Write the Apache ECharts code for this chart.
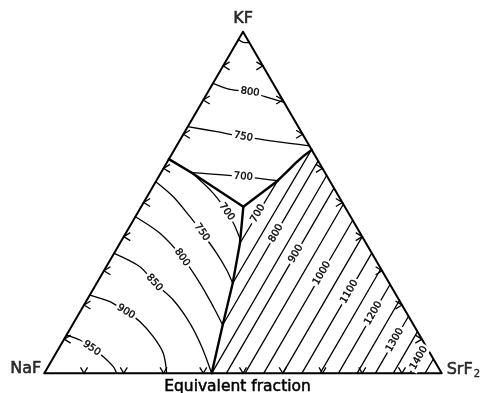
<!DOCTYPE html>
<html>
<head>
<meta charset="utf-8">
<title>NaF–KF–SrF2 liquidus</title>
<script src="https://cdn.jsdelivr.net/npm/echarts@6.0.0/dist/echarts.min.js"></script>
<style>
html, body { margin: 0; padding: 0; background: #fff; }
#chart { width: 484px; height: 393px; }
</style>
</head>
<body>
<div id="chart"></div>
<script>
// Every composition is [SrF2, KF] in equivalent fraction; NaF is the remainder.

// Tick positions along each side of the triangle
const edgeTicks = [0.1, 0.2, 0.3, 0.4, 0.5, 0.6, 0.7, 0.8, 0.9];

// Corners
const cornerNames = ['NaF', 'SrF2', 'KF'];
const cornerComps = [[0, 0], [1, 0], [0, 1]];

// Boundaries between primary fields (heavy lines)
const boundaryNaFKF = [[0, 0.627], [0.0773, 0.5872]];
const boundaryKFSrF2 = [[0.3054, 0.5638], [0.311, 0.5785], [0.3175, 0.5955], [0.3248, 0.6160], [0.3335, 0.6345], [0.346, 0.654]];
const boundaryInnerLeft = [[0.0773, 0.5872], [0.257, 0.4877]];
const boundaryInnerRight = [[0.3054, 0.5638], [0.257, 0.4877]];
const boundaryNaFSrF2 = [[0.257, 0.4877], [0.302, 0.3806], [0.3423, 0.2635], [0.3782, 0.1414], [0.4212, 0]];

// Isotherms in the KF field
const kf850 = [[0, 0.977], [0.016, 0.969], [0.032, 0.968]];
const kf800 = [[0, 0.849], [0.0516, 0.8314], [0.106, 0.8235], [0.1506, 0.8097], [0.207, 0.793]];
const kf750 = [[0, 0.722], [0.0802, 0.7073], [0.1545, 0.6926], [0.2458, 0.678], [0.334, 0.666]];
const kf700 = [[0.0773, 0.5872], [0.213, 0.5755], [0.3054, 0.5638]];

// Isotherms in the NaF field
const naf700 = [[0.0773, 0.5872], [0.1619, 0.5269], [0.2381, 0.4584], [0.2907, 0.3999], [0.302, 0.3806]];
const naf750 = [[0, 0.5609], [0.0661, 0.517], [0.1374, 0.4584], [0.1821, 0.4195], [0.2582, 0.3513], [0.3078, 0.3024], [0.3423, 0.2635]];
const naf800 = [[0, 0.4584], [0.0862, 0.4098], [0.1751, 0.3413], [0.2601, 0.2635], [0.3278, 0.195], [0.3782, 0.1414]];
const naf850 = [[0, 0.3513], [0.0848, 0.3121], [0.1442, 0.2652], [0.2173, 0.2146], [0.2934, 0.1464], [0.3571, 0.0779], [0.4212, 0]];
const naf900 = [[0, 0.2292], [0.0605, 0.2096], [0.1154, 0.1803], [0.1653, 0.1511], [0.2207, 0.1071], [0.2701, 0.0585], [0.308, 0]];
const naf950 = [[0, 0.1121], [0.041, 0.0975], [0.0827, 0.0732], [0.1242, 0.0486], [0.164, 0.0193], [0.1822, 0]];

// Isotherms in the SrF2 field: lower and upper end of each run
const srTemps = [700, 750, 800, 850, 900, 950, 1000, 1050, 1100, 1150, 1200, 1250, 1300, 1350, 1400, 1450];
const srLower = [[0.302, 0.3806], [0.3423, 0.2635], [0.3782, 0.1414], [0.4212, 0], [0.458, 0], [0.505, 0], [0.552, 0], [0.6, 0],
  [0.648, 0], [0.694, 0], [0.74, 0], [0.787, 0], [0.833, 0], [0.878, 0], [0.92, 0], [0.958, 0]];
const srUpper = [[0.3054, 0.5638], [0.345, 0.652], [0.378, 0.622], [0.421, 0.579], [0.458, 0.542], [0.505, 0.495], [0.552, 0.448], [0.6, 0.4],
  [0.648, 0.352], [0.694, 0.306], [0.74, 0.26], [0.787, 0.213], [0.833, 0.167], [0.878, 0.122], [0.92, 0.08], [0.958, 0.042]];

// Temperature labels: text, composition, isotherm it sits on
const isoLabels = [
  ['800', 0.106, 0.8235, 'kf800'],
  ['750', 0.1545, 0.6926, 'kf750'],
  ['700', 0.213, 0.5755, 'kf700'],
  ['700', 0.2225, 0.473, 'naf700'],
  ['750', 0.19, 0.413, 'naf750'],
  ['800', 0.177, 0.339, 'naf800'],
  ['850', 0.1442, 0.2652, 'naf850'],
  ['900', 0.1154, 0.1803, 'naf900'],
  ['950', 0.0827, 0.0732, 'naf950'],
  ['700', 0.3036, 0.468, 'sr700'],
  ['800', 0.378, 0.41, 'sr800'],
  ['900', 0.458, 0.35, 'sr900'],
  ['1000', 0.552, 0.293, 'sr1000'],
  ['1100', 0.648, 0.239, 'sr1100'],
  ['1200', 0.74, 0.176, 'sr1200'],
  ['1300', 0.833, 0.098, 'sr1300'],
  ['1400', 0.92, 0.045, 'sr1400']
];

// ternary [SrF2, KF] -> plane [x, y] with NaF at the origin
const toXY = p => [p[0] + p[1] / 2, p[1]];

const curves = { kf850, kf800, kf750, kf700, naf700, naf750, naf800, naf850, naf900, naf950 };
srTemps.forEach((t, i) => { curves['sr' + t] = [srLower[i], srUpper[i]]; });

const FONT = '"DejaVu Sans", sans-serif';

function lineSeries(points, width, smooth) {
  return {
    type: 'line', data: points.map(toXY), symbol: 'none', showSymbol: false,
    smooth: smooth ? 0.3 : false, clip: false, silent: true, z: 2,
    lineStyle: { color: '#000', width: width, cap: 'round', join: 'round' }
  };
}

const series = [];
// outline
series.push(lineSeries([cornerComps[0], cornerComps[1], cornerComps[2], cornerComps[0]], 2));
// field boundaries
[boundaryNaFKF, boundaryKFSrF2, boundaryInnerLeft, boundaryInnerRight, boundaryNaFSrF2].forEach(b => {
  series.push(lineSeries(b, 2.4, false));
});
// isotherms
Object.keys(curves).forEach(k => {
  series.push(lineSeries(curves[k], 1.3, k.indexOf('sr') !== 0));
});

// edge ticks: base, NaF-KF side, SrF2-KF side
const tickData = [];
edgeTicks.forEach(f => {
  tickData.push({ value: toXY([f, 0]), side: 0 });
  tickData.push({ value: toXY([0, f]), side: 1 });
  tickData.push({ value: toXY([1 - f, f]), side: 2 });
});
series.push({
  type: 'custom', silent: true, z: 3,
  data: tickData.map(d => d.value),
  renderItem: function (params, api) {
    const side = tickData[params.dataIndex].side;
    const p = api.coord([api.value(0), api.value(1)]);
    let a, b;
    if (side === 0) { a = [p[0] - 3.5, p[1] - 6]; b = [p[0] + 3.5, p[1] - 6]; }
    else if (side === 1) { a = [p[0] + 6.5, p[1] - 4]; b = [p[0] + 6.5, p[1] + 4]; }
    else { a = [p[0] - 6.5, p[1] - 4]; b = [p[0] - 6.5, p[1] + 4]; }
    return { type: 'polyline', shape: { points: [a, p, b] }, style: { stroke: '#000', lineWidth: 1.3, fill: null } };
  }
});

// temperature labels laid along their isotherm
function segDist(q, a, b) {
  const dx = b[0] - a[0], dy = b[1] - a[1];
  const L = dx * dx + dy * dy || 1;
  let t = ((q[0] - a[0]) * dx + (q[1] - a[1]) * dy) / L;
  t = Math.max(0, Math.min(1, t));
  const x = a[0] + t * dx - q[0], y = a[1] + t * dy - q[1];
  return Math.sqrt(x * x + y * y);
}
series.push({
  type: 'custom', silent: true, z: 10,
  data: isoLabels.map(l => toXY([l[1], l[2]])),
  renderItem: function (params, api) {
    const item = isoLabels[params.dataIndex];
    const q = api.coord([api.value(0), api.value(1)]);
    const curve = curves[item[3]];
    let best = Infinity, ang = 0;
    for (let i = 0; i < curve.length - 1; i++) {
      const a = api.coord(toXY(curve[i])), b = api.coord(toXY(curve[i + 1]));
      const d = segDist(q, a, b);
      if (d < best) { best = d; ang = Math.atan2(b[1] - a[1], b[0] - a[0]); }
    }
    if (ang > Math.PI / 2) ang -= Math.PI;
    if (ang < -Math.PI / 2) ang += Math.PI;
    return {
      type: 'text', x: q[0], y: q[1], rotation: -ang,
      style: {
        text: item[0], font: '10px ' + FONT, fill: '#000',
        stroke: '#000', lineWidth: 0.35,
        align: 'center', verticalAlign: 'middle',
        backgroundColor: '#fff', padding: [1, 2]
      }
    };
  }
});

// corner names
series.push({
  type: 'scatter', symbolSize: 0, silent: true, z: 5,
  data: [
    { value: toXY(cornerComps[0]), label: { position: 'left', distance: 3, offset: [0, -4], formatter: cornerNames[0] } },
    { value: toXY(cornerComps[1]), label: { position: 'right', distance: 5, offset: [0, -3], formatter: '{m|SrF}{s|2}' } },
    { value: toXY(cornerComps[2]), label: { position: 'top', distance: 5, formatter: cornerNames[2] } }
  ],
  label: {
    show: true, color: '#000', fontFamily: FONT, fontSize: 16,
    textBorderColor: '#000', textBorderWidth: 0.6,
    rich: {
      m: { fontFamily: FONT, fontSize: 16, color: '#000', textBorderColor: '#000', textBorderWidth: 0.6 },
      s: { fontFamily: FONT, fontSize: 10, color: '#000', textBorderColor: '#000', textBorderWidth: 0.4, padding: [9, 0, 0, 1] }
    }
  }
});

const chart = echarts.init(document.getElementById('chart'), null, { renderer: 'canvas' });
chart.setOption({
  animation: false,
  backgroundColor: '#fff',
  grid: { left: 44.3, top: 31.7, width: 397.4, height: 341.6 },
  xAxis: { type: 'value', min: 0, max: 1, show: false },
  yAxis: { type: 'value', min: 0, max: 1, show: false },
  graphic: [{
    type: 'text', x: 237.5, y: 387,
    style: {
      text: 'Equivalent fraction', font: '15.5px ' + FONT, fill: '#000',
      stroke: '#000', lineWidth: 0.5, align: 'center', verticalAlign: 'middle'
    }
  }],
  series: series
});
</script>
</body>
</html>
